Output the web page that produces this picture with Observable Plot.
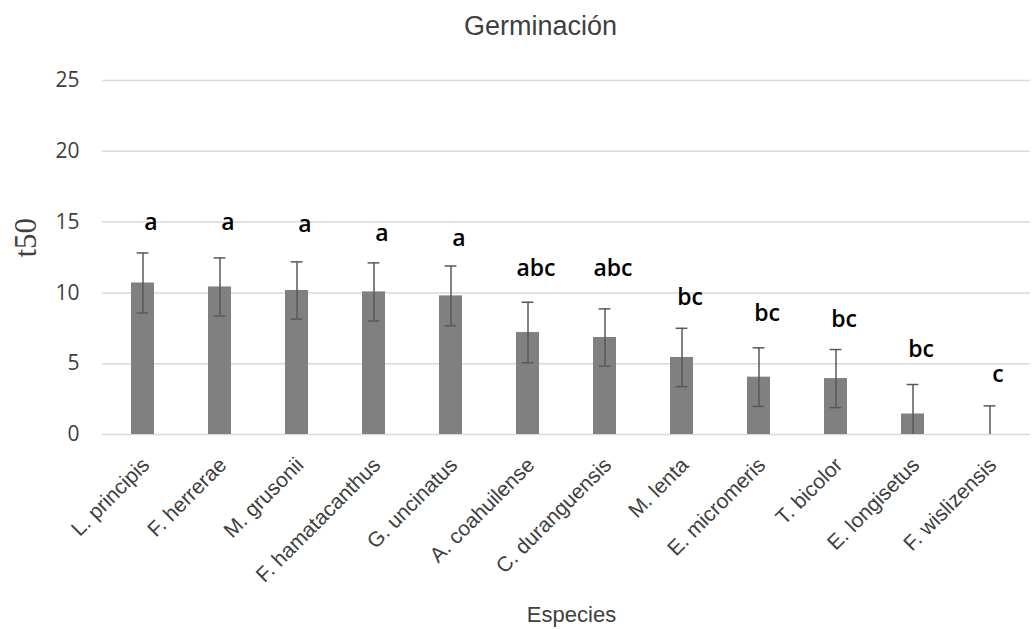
<!DOCTYPE html>
<html>
<head>
<meta charset="utf-8">
<script src="https://cdn.jsdelivr.net/npm/d3@7"></script>
<script src="https://cdn.jsdelivr.net/npm/@observablehq/plot@0.6"></script>
<style>
  html, body { margin: 0; padding: 0; background: #fff; }
  #chart svg { display: block; }
</style>
</head>
<body>
<div id="chart"></div>
<script>
const species = ["L. principis","F. herrerae","M. grusonii","F. hamatacanthus","G. uncinatus","A. coahuilense","C. duranguensis","M. lenta","E. micromeris","T. bicolor","E. longisetus","F. wislizensis"];
const t50 = [10.7, 10.42, 10.17, 10.07, 9.79, 7.2, 6.85, 5.44, 4.05, 3.95, 1.45, 0];
const errors = [2.12, 2.05, 2.02, 2.05, 2.11, 2.14, 2.02, 2.06, 2.07, 2.05, 2.08, 2.02];
const letters = ["a","a","a","a","a","abc","abc","bc","bc","bc","bc","c"];
const letterY = [14.98, 14.98, 14.84, 14.2, 13.86, 11.73, 11.73, 9.67, 8.54, 8.12, 6.0, 4.21];
const yTicks = [0, 5, 10, 15, 20, 25];
const title = "Germinación";
const xLabel = "Especies";
const yLabel = "t50";

const data = species.map((s, i) => ({
  species: s,
  value: t50[i],
  hi: t50[i] + errors[i],
  lo: Math.max(0, t50[i] - errors[i]),
  letter: letters[i],
  ly: letterY[i]
}));

const chart = Plot.plot({
  width: 1035,
  height: 629,
  marginTop: 80,
  marginBottom: 195,
  marginLeft: 102,
  marginRight: 5,
  style: { background: "#fff" },
  x: { domain: species, paddingInner: 0.7, paddingOuter: 0.35, axis: null },
  y: { domain: [0, 25], axis: null },
  marks: [
    Plot.ruleY(yTicks, { stroke: "#d9d9d9", strokeWidth: 1.5 }),
    Plot.text(yTicks, {
      y: d => d, text: d => String(d), frameAnchor: "left", textAnchor: "end",
      dx: -23, fill: "#404040", fontSize: 21, fontFamily: "Open Sans", letterSpacing: 1.5
    }),
    Plot.barY(data, { x: "species", y: "value", fill: "#808080" }),
    Plot.ruleX(data, { x: "species", y1: "lo", y2: "hi", stroke: "#595959", strokeWidth: 1.5 }),
    Plot.tickY(data, { x: "species", y: "hi", stroke: "#595959", strokeWidth: 1.5, insetLeft: 5.6, insetRight: 5.6 }),
    Plot.tickY(data.filter(d => d.lo > 0), { x: "species", y: "lo", stroke: "#595959", strokeWidth: 1.5, insetLeft: 5.6, insetRight: 5.6 }),
    Plot.text(data, {
      x: "species", y: "ly", text: "letter", dx: 8, fill: "#000",
      fontSize: 23, fontWeight: 600, fontFamily: "Open Sans", letterSpacing: 0.5
    }),
    Plot.text(species, {
      x: d => d, text: d => d, frameAnchor: "bottom", rotate: -45, textAnchor: "end",
      lineAnchor: "middle", dx: 3, dy: 27, fill: "#404040", fontSize: 21,
      fontFamily: "Liberation Sans", letterSpacing: 0.5
    }),
    Plot.text([title], {
      text: d => d, frameAnchor: "top", lineAnchor: "middle", dx: -26, dy: -54, fill: "#404040",
      fontSize: 27, fontFamily: "Liberation Sans"
    }),
    Plot.text([xLabel], {
      text: d => d, frameAnchor: "bottom", lineAnchor: "middle", dx: 5, dy: 180, fill: "#404040",
      fontSize: 22, fontFamily: "Liberation Sans", letterSpacing: 0.5
    }),
    Plot.text([yLabel], {
      text: d => d, frameAnchor: "left", rotate: -90, dx: -76, fill: "#404040",
      fontSize: 31, fontFamily: "Liberation Sans Narrow"
    })
  ]
});
document.getElementById("chart").appendChild(chart);
</script>
</body>
</html>
